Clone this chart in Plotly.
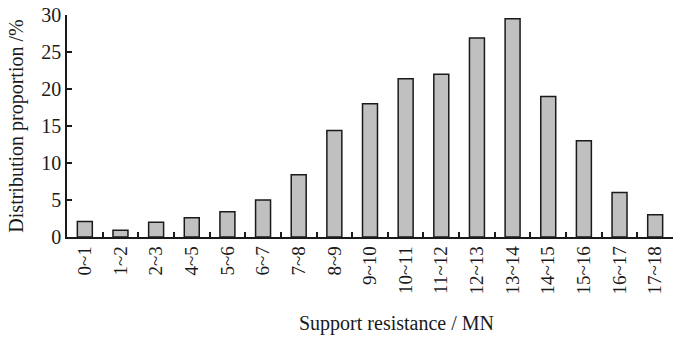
import plotly.graph_objects as go

categories = ["0~1", "1~2", "2~3", "4~5", "5~6", "6~7", "7~8", "8~9", "9~10",
              "10~11", "11~12", "12~13", "13~14", "14~15", "15~16", "16~17", "17~18"]
values = [2.1, 0.9, 2.0, 2.6, 3.4, 5.0, 8.4, 14.4, 18.0, 21.4, 22.0, 26.9, 29.5, 19.0, 13.0, 6.0, 3.0]
y_ticks = [0, 5, 10, 15, 20, 25, 30]

font_family = "Liberation Serif, DejaVu Serif, serif"

fig = go.Figure(go.Bar(
    x=categories, y=values,
    marker=dict(color="#c0c0c0", line=dict(color="#1a1a1a", width=1.5)),
    width=0.42,
))

fig.update_layout(
    width=678, height=342,
    margin=dict(l=67, r=5, t=15, b=105),
    plot_bgcolor="white", paper_bgcolor="white",
    font=dict(family=font_family, size=18, color="#1a1a1a"),
    showlegend=False,
    bargap=0.58,
)
fig.update_xaxes(
    type="category", automargin=False,
    showline=True, linecolor="#1a1a1a", linewidth=1.5,
    ticks="inside", ticklen=5, tickcolor="#1a1a1a", tickwidth=1.5,
    tickson="boundaries", tickangle=-90,
    tickfont=dict(size=19),
    showgrid=False, zeroline=False,
)
fig.update_yaxes(
    range=[0, 30], tickvals=y_ticks, automargin=False,
    showline=True, linecolor="#1a1a1a", linewidth=1.5,
    ticks="inside", ticklen=5, tickcolor="#1a1a1a", tickwidth=1.5,
    tickfont=dict(size=20),
    showgrid=False, zeroline=False,
    title=dict(text="Distribution proportion /%", font=dict(size=20), standoff=12),
)
fig.add_annotation(
    text="Support resistance / MN", xref="paper", yref="paper",
    x=0.543, y=0, yshift=-86, xanchor="center", yanchor="middle",
    showarrow=False, font=dict(size=20),
)

fig.write_html("out.html", config={"displayModeBar": False},
               post_script="document.body.style.margin='0';")
